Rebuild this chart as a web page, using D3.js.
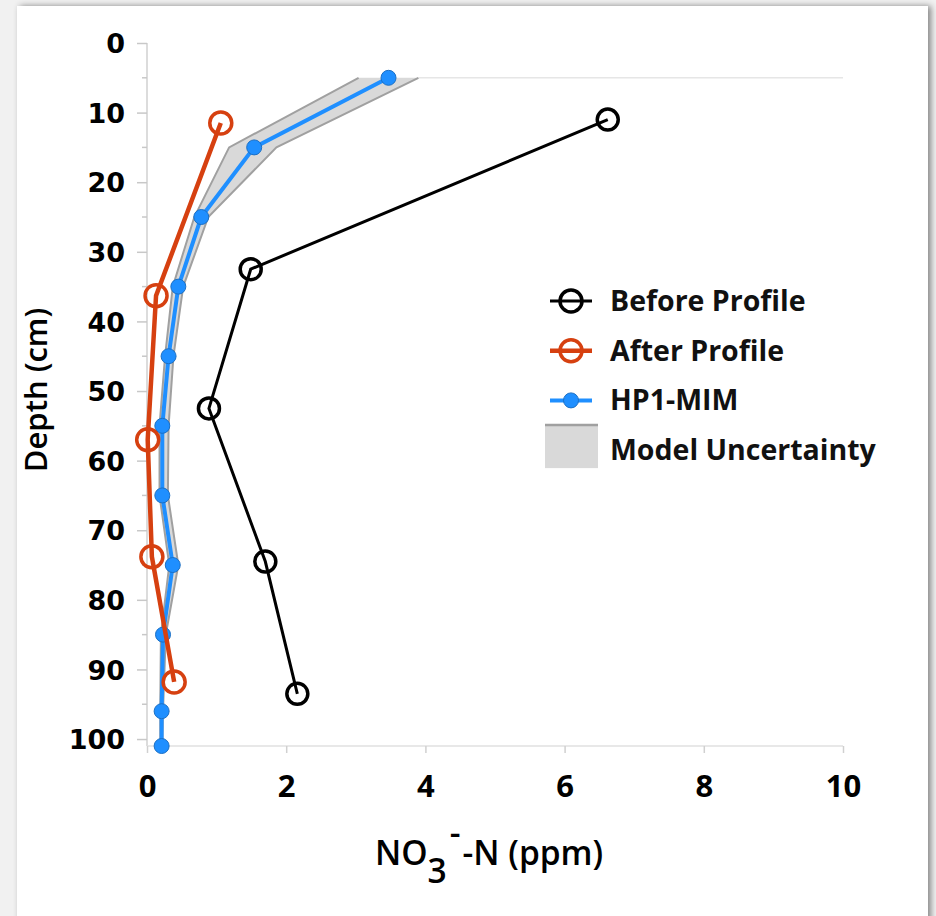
<!DOCTYPE html>
<html lang="en">
  <head>
    <meta charset="UTF-8" />
    <title>NO3 profile</title>
    <style>
      body { margin: 0; background: #f1f1f1; }
      svg { display: block; }
    </style>
  </head>
  <body>
    <svg id="chart" width="936" height="916"></svg>
  </body>
  <script src="https://cdn.jsdelivr.net/npm/d3@7"></script>
  <script>
    // measured profiles (depth in cm, NO3-N in ppm)
    const beforeDepth = [11, 32.5, 52.5, 74.5, 93.5];
    const beforeNO3 = [6.62, 1.49, 0.89, 1.7, 2.16];

    const afterDepth = [11.5, 36.3, 57, 73.8, 91.8];
    const afterNO3 = [1.06, 0.13, 0.01, 0.07, 0.39];

    // model
    const hp1Depth = [5, 15, 25, 35, 45, 55, 65, 75, 85, 96, 101];
    const hp1NO3 = [3.47, 1.54, 0.78, 0.45, 0.31, 0.22, 0.22, 0.37, 0.23, 0.21, 0.21];
    const bandLow = [3.04, 1.18, 0.68, 0.37, 0.26, 0.18, 0.18, 0.32, 0.2, 0.19, 0.19];
    const bandHigh = [3.9, 1.86, 0.88, 0.52, 0.38, 0.31, 0.3, 0.45, 0.27, 0.23, 0.22];

    const xTicks = [0, 2, 4, 6, 8, 10];
    const yTicks = [0, 10, 20, 30, 40, 50, 60, 70, 80, 90, 100];
    const yMinor = [5, 15, 25, 35, 45, 55, 65, 75, 85, 95];

    const legendItems = ["Before Profile", "After Profile", "HP1-MIM", "Model Uncertainty"];

    const svg = d3.select("#chart");

    // card with shadow
    const defs = svg.append("defs");
    const f = defs.append("filter").attr("id", "shadow")
      .attr("x", "-5%").attr("y", "-5%").attr("width", "110%").attr("height", "110%");
    f.append("feDropShadow").attr("dx", 3).attr("dy", 0).attr("stdDeviation", 3)
      .attr("flood-color", "#000").attr("flood-opacity", 0.45);
    svg.append("rect").attr("x", 17).attr("y", 6).attr("width", 911).attr("height", 940)
      .attr("fill", "#fff").attr("filter", "url(#shadow)");

    const x = d3.scaleLinear().domain([0, 10]).range([147, 843]);
    const y = d3.scaleLinear().domain([0, 101]).range([43, 746]);

    const g = svg.append("g");

    // plot area top border (at depth 5), only visible right of the band
    g.append("line")
      .attr("x1", x(bandHigh[0])).attr("x2", x(10)).attr("y1", y(5)).attr("y2", y(5))
      .attr("stroke", "#e6e6e6").attr("stroke-width", 1.5);

    // y axis
    const yAxis = g.append("g").attr("transform", `translate(${x(0)},0)`)
      .call(d3.axisLeft(y).tickValues(yTicks).tickSize(10).tickPadding(12)
        .tickFormat(d3.format("d")));
    yAxis.select(".domain").attr("stroke", "#d0d0d0").attr("stroke-width", 1.5)
      .attr("d", `M0,${y(0)}V${y(101)}`);
    yAxis.selectAll(".tick line").attr("stroke", "#c8c8c8").attr("stroke-width", 1.5);
    yAxis.selectAll(".tick text")
      .attr("font-family", "DejaVu Sans").attr("font-weight", "bold")
      .attr("font-size", 27).attr("fill", "#000").attr("dy", "0.36em");
    g.append("g").selectAll("line").data(yMinor).join("line")
      .attr("x1", x(0) - 5).attr("x2", x(0)).attr("y1", (d) => y(d)).attr("y2", (d) => y(d))
      .attr("stroke", "#c8c8c8").attr("stroke-width", 1.5);

    // x axis
    const xAxis = g.append("g").attr("transform", `translate(0,${y(101)})`)
      .call(d3.axisBottom(x).tickValues(xTicks).tickSize(7).tickPadding(22));
    xAxis.select(".domain").attr("stroke", "#e0e0e0").attr("stroke-width", 1.5)
      .attr("d", `M${x(0)},0H${x(10)}`);
    xAxis.selectAll(".tick line").attr("stroke", "#d0d0d0").attr("stroke-width", 1.5);
    xAxis.selectAll(".tick text")
      .attr("font-family", "Open Sans").attr("font-weight", "bold")
      .attr("font-size", 31).attr("fill", "#000");

    // uncertainty band
    const band = hp1Depth.map((d, i) => ({ d: d, lo: bandLow[i], hi: bandHigh[i] }));
    g.append("path").datum(band)
      .attr("fill", "#d9d9d9")
      .attr("d", d3.area().y((p) => y(p.d)).x0((p) => x(p.lo)).x1((p) => x(p.hi)));
    g.append("path").datum(band).attr("fill", "none").attr("stroke", "#a0a0a0").attr("stroke-width", 2)
      .attr("d", d3.line().y((p) => y(p.d)).x((p) => x(p.lo)));
    g.append("path").datum(band).attr("fill", "none").attr("stroke", "#a0a0a0").attr("stroke-width", 2)
      .attr("d", d3.line().y((p) => y(p.d)).x((p) => x(p.hi)));

    const line = d3.line().x((p) => x(p[0])).y((p) => y(p[1]));

    // HP1-MIM
    const hp1 = hp1Depth.map((d, i) => [hp1NO3[i], d]);
    g.append("path").datum(hp1).attr("fill", "none")
      .attr("stroke", "#1f8fff").attr("stroke-width", 4).attr("d", line);
    g.append("g").selectAll("circle").data(hp1).join("circle")
      .attr("cx", (p) => x(p[0])).attr("cy", (p) => y(p[1])).attr("r", 7.5)
      .attr("fill", "#1f8fff").attr("stroke", "#1b6fc4").attr("stroke-width", 1);

    // Before profile
    const before = beforeDepth.map((d, i) => [beforeNO3[i], d]);
    g.append("path").datum(before).attr("fill", "none")
      .attr("stroke", "#000").attr("stroke-width", 3).attr("d", line);
    g.append("g").selectAll("circle").data(before).join("circle")
      .attr("cx", (p) => x(p[0])).attr("cy", (p) => y(p[1])).attr("r", 10.5)
      .attr("fill", "none").attr("stroke", "#000").attr("stroke-width", 3.5);

    // After profile
    const after = afterDepth.map((d, i) => [afterNO3[i], d]);
    g.append("path").datum(after).attr("fill", "none")
      .attr("stroke", "#d64010").attr("stroke-width", 4.5).attr("d", line);
    g.append("g").selectAll("circle").data(after).join("circle")
      .attr("cx", (p) => x(p[0])).attr("cy", (p) => y(p[1])).attr("r", 11)
      .attr("fill", "none").attr("stroke", "#d64010").attr("stroke-width", 3.5);

    // legend
    const legend = svg.append("g").attr("transform", "translate(548,301)");
    const rowH = 49.7;
    const sym = [
      { c: "#000", r: 11, open: true, w: 3 },
      { c: "#d64010", r: 11, open: true, w: 4.5 },
      { c: "#1f8fff", r: 7.5, open: false, w: 4 }
    ];
    sym.forEach((s, i) => {
      const row = legend.append("g").attr("transform", `translate(0,${i * rowH})`);
      row.append("line").attr("x1", 2).attr("x2", 44).attr("stroke", s.c).attr("stroke-width", s.w);
      row.append("circle").attr("cx", 23).attr("r", s.r)
        .attr("fill", s.open ? "none" : s.c).attr("stroke", s.open ? s.c : "#1b6fc4")
        .attr("stroke-width", s.open ? 3.5 : 1);
    });
    const sw = legend.append("g").attr("transform", `translate(0,${3 * rowH})`);
    sw.append("rect").attr("x", -3).attr("y", -26).attr("width", 53).attr("height", 44).attr("fill", "#d9d9d9");
    sw.append("line").attr("x1", -3).attr("x2", 50).attr("y1", -25).attr("y2", -25)
      .attr("stroke", "#a0a0a0").attr("stroke-width", 2.5);
    legend.selectAll("text.lbl").data(legendItems).join("text")
      .attr("class", "lbl")
      .attr("x", 62).attr("y", (d, i) => i * rowH).attr("dy", "0.35em")
      .attr("font-family", "Open Sans").attr("font-weight", "bold").attr("font-size", 28.5)
      .attr("fill", "#111").text((d) => d);

    // axis titles
    svg.append("text")
      .attr("transform", "translate(47,390) rotate(-90)")
      .attr("text-anchor", "middle")
      .attr("font-family", "Open Sans").attr("font-weight", 600).attr("font-size", 31)
      .attr("fill", "#000").text("Depth (cm)");

    const xt = svg.append("text").attr("x", 375).attr("y", 865)
      .attr("font-family", "Open Sans").attr("font-weight", 600).attr("font-size", 33.5).attr("fill", "#000");
    xt.append("tspan").text("NO");
    xt.append("tspan").attr("dy", 18).text("3");
    xt.append("tspan").attr("dy", -38).attr("dx", 3).text("-");
    xt.append("tspan").attr("dy", 20).attr("dx", 2).text("-N (ppm)");
  </script>
</html>
